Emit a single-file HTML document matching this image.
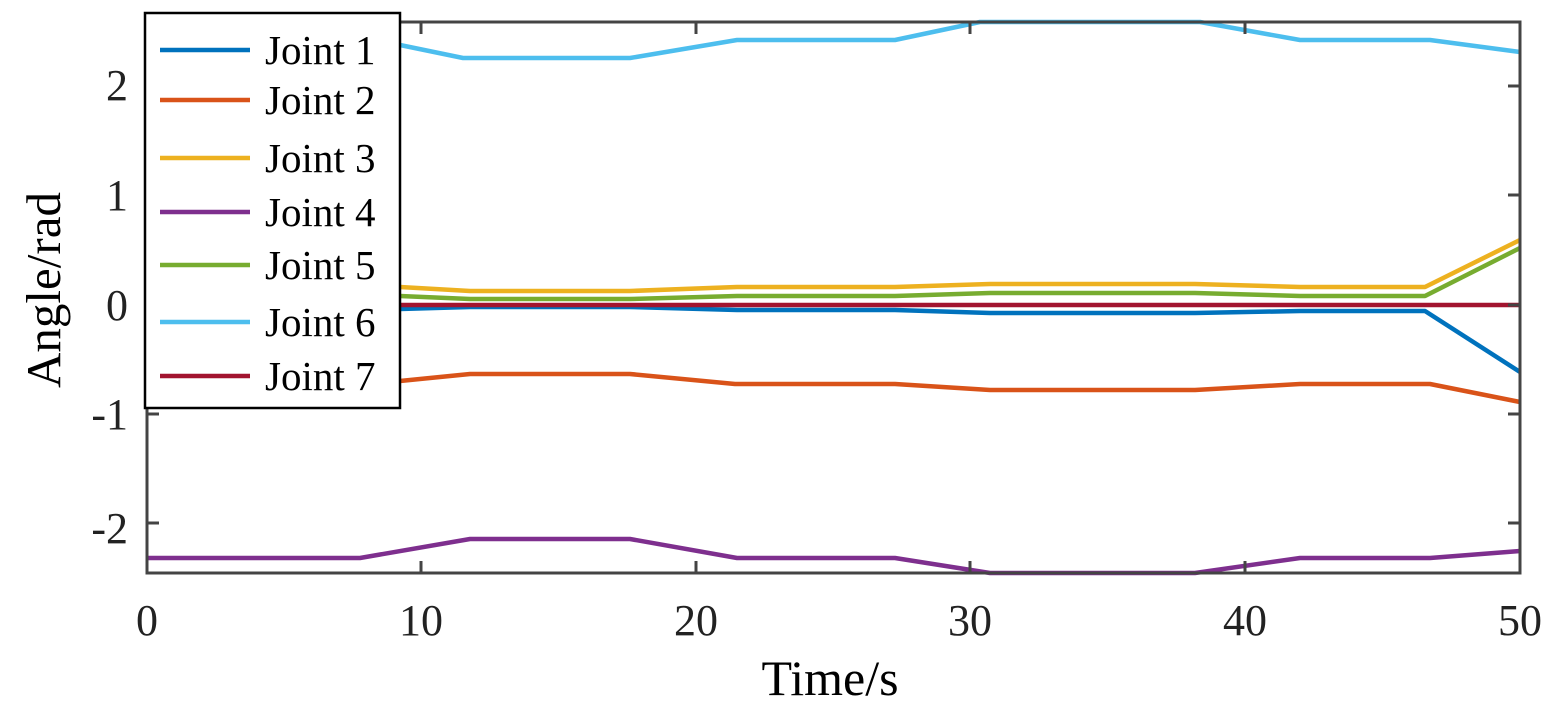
<!DOCTYPE html>
<html><head><style>body{margin:0;background:#fff}</style></head><body>
<svg width="1564" height="712" xmlns="http://www.w3.org/2000/svg" font-family="Liberation Serif, serif">
<rect width="1564" height="712" fill="#fff"/>
<g fill="none" stroke-width="4.5" stroke-linejoin="round">
<polyline stroke="#4DBEEE" points="147,40 400,45 463,58 630,58 737,40 895,40 980,22 1200,22 1300,40 1430,40 1520,52"/>
<polyline stroke="#D95319" points="147,381 400,381 470,374 630,374 735,384 895,384 990,390 1195,390 1300,384 1430,384 1520,402"/>
<polyline stroke="#EDB120" points="147,287 400,287 470,291 630,291 737,287 895,287 990,284 1195,284 1300,287 1425,287 1520,240"/>
<polyline stroke="#77AC30" points="147,296 400,296 470,299 630,299 737,296 895,296 990,293 1195,293 1300,296 1425,296 1520,248"/>
<polyline stroke="#0072BD" points="147,309 400,309 470,307 630,307 737,310 895,310 990,313 1195,313 1300,311 1425,311 1520,372"/>
<polyline stroke="#A2142F" points="147,305 1520,305"/>
<polyline stroke="#7E2F8E" points="147,558 360,558 470,539 630,539 737,558 895,558 990,573 1195,573 1300,558 1430,558 1520,551"/>
</g>
<g stroke="#444" stroke-width="3" fill="none">
<rect x="147" y="22" width="1373" height="551"/>
<path d="M147,86h12M147,195h12M147,305h12M147,414h12M147,523h12M1520,86h-12M1520,195h-12M1520,305h-12M1520,414h-12M1520,523h-12"/>
<path d="M421,573v-12M696,573v-12M970,573v-12M1245,573v-12M421,22v12M696,22v12M970,22v12M1245,22v12"/>
</g>
<g font-size="44" fill="#222" text-anchor="end">
<text x="128" y="100">2</text><text x="128" y="210">1</text><text x="128" y="320">0</text><text x="128" y="429">-1</text><text x="128" y="543">-2</text>
</g>
<g font-size="44" fill="#222" text-anchor="middle">
<text x="147" y="635">0</text><text x="421" y="635">10</text><text x="696" y="635">20</text><text x="970" y="635">30</text><text x="1245" y="635">40</text><text x="1520" y="635">50</text>
</g>
<text x="830" y="695" font-size="50" text-anchor="middle" fill="#000">Time/s</text>
<text transform="translate(60,290) rotate(-90)" font-size="49" text-anchor="middle" fill="#000">Angle/rad</text>
<rect x="145" y="13" width="255" height="395" fill="#fff" stroke="#000" stroke-width="2.5"/>
<g stroke-width="4.5">
<line x1="160" y1="50" x2="250" y2="50" stroke="#0072BD"/>
<line x1="160" y1="100" x2="250" y2="100" stroke="#D95319"/>
<line x1="160" y1="158" x2="250" y2="158" stroke="#EDB120"/>
<line x1="160" y1="212" x2="250" y2="212" stroke="#7E2F8E"/>
<line x1="160" y1="265" x2="250" y2="265" stroke="#77AC30"/>
<line x1="160" y1="322" x2="250" y2="322" stroke="#4DBEEE"/>
<line x1="160" y1="376" x2="250" y2="376" stroke="#A2142F"/>
</g>
<g font-size="41" fill="#000">
<text x="265" y="64">Joint 1</text><text x="265" y="114">Joint 2</text><text x="265" y="172">Joint 3</text><text x="265" y="226">Joint 4</text><text x="265" y="279">Joint 5</text><text x="265" y="336">Joint 6</text><text x="265" y="390">Joint 7</text>
</g>
</svg>
</body></html>
